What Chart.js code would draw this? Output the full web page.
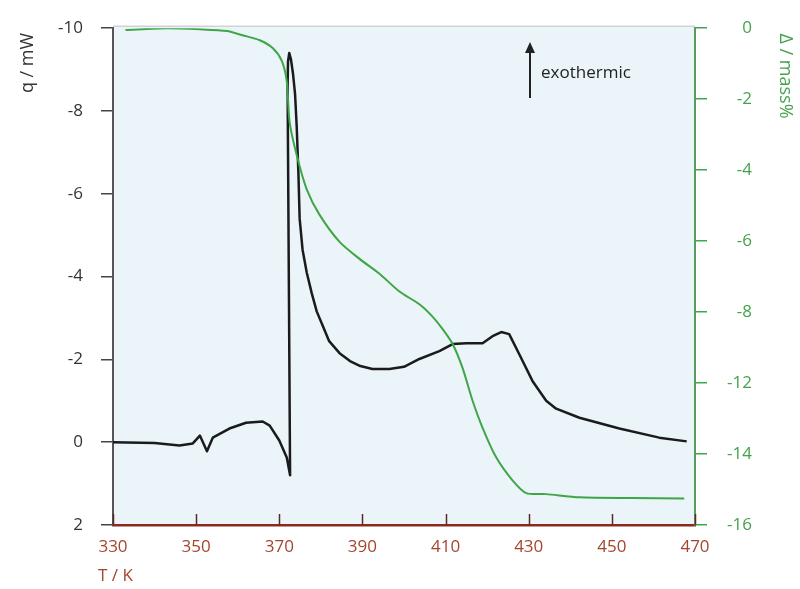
<!DOCTYPE html>
<html>
<head>
<meta charset="utf-8">
<script src="https://cdn.jsdelivr.net/npm/chart.js@4/dist/chart.umd.min.js"></script>
<style>
  html, body { margin: 0; padding: 0; background: #ffffff; }
  #wrap { width: 800px; height: 589px; }
</style>
</head>
<body>
<div id="wrap"><canvas id="c" width="800" height="589"></canvas></div>
<script>
// ---- data ----
const tempQ = [330, 340, 346, 349.2, 350.9, 352.6, 354, 358, 362, 366, 367.7, 370, 371.8, 372.6,
  372.0, 372.1, 372.4, 372.8, 373.3, 373.8, 374.2, 374.6, 374.9, 375.6, 376.6, 377.8, 379, 380.5,
  382, 384.5, 387, 389.5, 392.4, 396.5,
  400, 403.7, 408.5, 411.7, 415, 418.9, 421.3, 423.4, 425.3, 427.7, 430.9, 434.2, 436.6, 442.2,
  451.8, 461.4, 468];
const heatFlow = [0, 0.02, 0.08, 0.03, -0.16, 0.22, -0.11, -0.33, -0.47, -0.5, -0.4, -0.04, 0.37, 0.8,
  -8.6, -9.2, -9.4, -9.25, -8.9, -8.4, -7.6, -6.5, -5.4, -4.65, -4.1, -3.6, -3.16, -2.8,
  -2.44, -2.15, -1.96, -1.84, -1.77, -1.77,
  -1.82, -2.01, -2.2, -2.37, -2.39, -2.39, -2.56, -2.66, -2.61, -2.13, -1.48, -1.0, -0.81, -0.59,
  -0.33, -0.11, -0.02];

const tempMass = [333, 343, 351, 357.4, 361.2, 365.3, 368.4, 370.6, 371.8, 372.5, 374.2, 376.6,
  379.7, 384.5, 389.3, 394.1, 398.9, 403.7, 406.8, 409.3, 411.7, 414.1, 416.5, 418.9, 422.2,
  426.1, 429.4, 434.2, 442.2, 455, 467.4];
// mass values in right-axis scale units (tick positions 0,-2,...,-14)
const massLoss = [-0.05, 0, -0.03, -0.08, -0.2, -0.34, -0.56, -0.92, -1.5, -2.66, -3.58, -4.54,
  -5.26, -6.02, -6.5, -6.92, -7.42, -7.78, -8.12, -8.48, -8.9, -9.58, -10.5, -11.26, -12.1,
  -12.74, -13.1, -13.13, -13.22, -13.24, -13.25];

const xTicks = [330, 350, 370, 390, 410, 430, 450, 470];
const qTicks = [-10, -8, -6, -4, -2, 0, 2];
const massTickLabels = ['0', '-2', '-4', '-6', '-8', '-12', '-14', '-16'];

// ---- styling ----
const FONT = 'Open Sans';
const plotBg = '#eaf4f9';
const redAxis = '#8a2b1e';
const redText = '#a4452e';
const green = '#3fa648';
const greenText = '#44a24c';

const decor = {
  id: 'decor',
  beforeDraw(chart) {
    const {ctx, chartArea: a} = chart;
    ctx.save();
    ctx.fillStyle = '#ffffff';
    ctx.fillRect(0, 0, chart.width, chart.height);
    ctx.fillStyle = plotBg;
    ctx.fillRect(a.left, a.top - 2, a.right - a.left, a.bottom - a.top + 2);
    ctx.strokeStyle = '#cfd3d6';
    ctx.lineWidth = 1.5;
    ctx.beginPath();
    ctx.moveTo(a.left, a.top - 2);
    ctx.lineTo(a.right, a.top - 2);
    ctx.stroke();
    ctx.restore();
  },
  afterDraw(chart) {
    const {ctx, chartArea: a, scales} = chart;
    const xs = scales.x;
    ctx.save();
    // inward x ticks
    ctx.strokeStyle = '#5a2a20';
    ctx.lineWidth = 1.5;
    xTicks.forEach(v => {
      const px = Math.round(xs.getPixelForValue(v)) + 0.5;
      ctx.beginPath();
      ctx.moveTo(px, a.bottom);
      ctx.lineTo(px, a.bottom - 11);
      ctx.stroke();
    });
    // axis titles
    ctx.font = '18px "' + FONT + '"';
    ctx.textBaseline = 'middle';
    ctx.textAlign = 'center';
    ctx.fillStyle = '#333333';
    ctx.save();
    ctx.translate(28, 63);
    ctx.rotate(-Math.PI / 2);
    ctx.fillText('q / mW', 0, 0);
    ctx.restore();
    ctx.fillStyle = greenText;
    ctx.save();
    ctx.translate(785, 76);
    ctx.rotate(Math.PI / 2);
    ctx.fillText('\u0394 / mass%', 0, 0);
    ctx.restore();
    ctx.font = '17px "' + FONT + '"';
    ctx.fillStyle = redText;
    ctx.textAlign = 'left';
    ctx.fillText('T / K', 98, 576);
    // exothermic arrow
    ctx.strokeStyle = '#222222';
    ctx.fillStyle = '#222222';
    ctx.lineWidth = 2;
    ctx.beginPath();
    ctx.moveTo(530, 98);
    ctx.lineTo(530, 50);
    ctx.stroke();
    ctx.beginPath();
    ctx.moveTo(530, 42);
    ctx.lineTo(525, 53);
    ctx.lineTo(535, 53);
    ctx.closePath();
    ctx.fill();
    ctx.font = '17px "' + FONT + '"';
    ctx.textAlign = 'left';
    ctx.fillText('exothermic', 541, 73);
    ctx.restore();
  }
};

const qData = tempQ.map((t, i) => ({x: t, y: heatFlow[i]}));
const mData = tempMass.map((t, i) => ({x: t, y: massLoss[i]}));

new Chart(document.getElementById('c'), {
  type: 'line',
  data: {
    datasets: [
      {
        label: 'mass',
        data: mData,
        yAxisID: 'y2',
        borderColor: green,
        borderWidth: 2,
        pointRadius: 0,
        tension: 0.25,
        fill: false
      },
      {
        label: 'q',
        data: qData,
        yAxisID: 'y',
        borderColor: '#1b1b1b',
        borderWidth: 2.5,
        pointRadius: 0,
        tension: 0,
        borderJoinStyle: 'round',
        fill: false
      }
    ]
  },
  options: {
    responsive: false,
    animation: false,
    devicePixelRatio: 1,
    layout: { padding: { top: 24, left: 0, right: 48, bottom: 0 } },
    plugins: { legend: { display: false }, tooltip: { enabled: false } },
    scales: {
      x: {
        type: 'linear',
        min: 330, max: 470,
        afterBuildTicks(s) { s.ticks = xTicks.map(v => ({value: v})); },
        afterFit(s) { s.height = 64; },
        grid: { display: false, drawTicks: false },
        border: { display: true, color: redAxis, width: 2.5 },
        ticks: {
          color: redText,
          font: { family: FONT, size: 17 },
          padding: 12,
          maxRotation: 0
        }
      },
      y: {
        type: 'linear',
        position: 'left',
        reverse: true,
        min: -10, max: 2,
        afterBuildTicks(s) { s.ticks = qTicks.map(v => ({value: v})); },
        afterFit(s) { s.width = 113; },
        grid: { drawOnChartArea: false, drawTicks: true, tickLength: 12, color: '#444444', lineWidth: 1.5 },
        border: { display: true, color: '#555555', width: 2 },
        ticks: {
          color: '#333333',
          font: { family: FONT, size: 17 },
          padding: 18
        }
      },
      y2: {
        type: 'linear',
        position: 'right',
        min: -14, max: 0,
        afterBuildTicks(s) { s.ticks = [0, -2, -4, -6, -8, -10, -12, -14].map(v => ({value: v})); },
        afterFit(s) { s.width = 57; },
        grid: { drawOnChartArea: false, drawTicks: true, tickLength: 12, color: green, lineWidth: 1.5 },
        border: { display: true, color: '#5b9a5e', width: 2 },
        ticks: {
          color: greenText,
          font: { family: FONT, size: 17 },
          padding: 14,
          crossAlign: 'far',
          callback: (v, i) => massTickLabels[i]
        }
      }
    }
  },
  plugins: [decor]
});
</script>
</body>
</html>
